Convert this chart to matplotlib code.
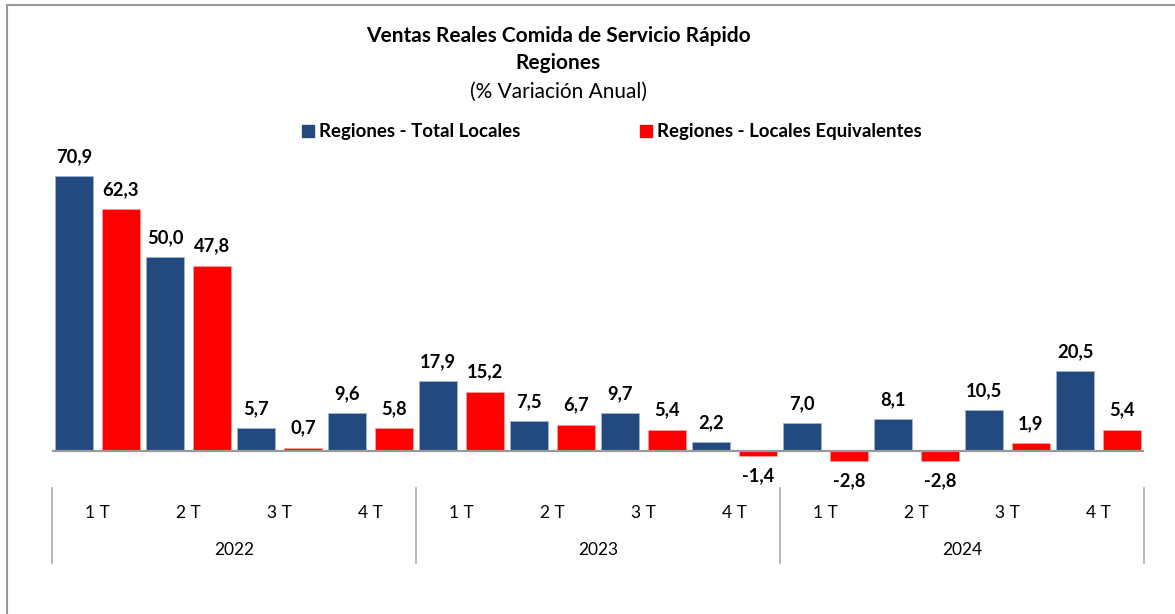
import matplotlib
matplotlib.use("Agg")
import matplotlib.pyplot as plt
import numpy as np
from matplotlib.lines import Line2D
from matplotlib.patches import Rectangle
from matplotlib.transforms import blended_transform_factory

years = ["2022", "2023", "2024"]
quarters = ["1 T", "2 T", "3 T", "4 T"]
total_locales = [70.9, 50.0, 5.7, 9.6, 17.9, 7.5, 9.7, 2.2, 7.0, 8.1, 10.5, 20.5]
locales_equiv = [62.3, 47.8, 0.7, 5.8, 15.2, 6.7, 5.4, -1.4, -2.8, -2.8, 1.9, 5.4]
series_names = ["Regiones - Total Locales", "Regiones - Locales Equivalentes"]

BLUE = "#234A7E"
RED = "#FF0000"
FONT = ["Lato", "DejaVu Sans"]
plt.rcParams["font.family"] = FONT

W, H = 1175, 614
fig = plt.figure(figsize=(W / 100, H / 100), dpi=100)

# axes placed so that the zero line sits at y=451px, x spans 52..1144px
y_lo, y_hi = -10, 80
px_per_unit = 3.87
zero_px = 450.5
top_px = zero_px - y_hi * px_per_unit
bot_px = zero_px - y_lo * px_per_unit
ax = fig.add_axes([52 / W, 1 - bot_px / H, (1144 - 52) / W, (bot_px - top_px) / H])
ax.set_xlim(-0.5, 11.5)
ax.set_ylim(y_lo, y_hi)
ax.axis("off")

x = np.arange(len(total_locales))
bw = 0.41
off = 0.258
b1 = ax.bar(x - off, total_locales, bw, color=BLUE, edgecolor="#9FB4D0", linewidth=0.6)
b2 = ax.bar(x + off, locales_equiv, bw, color=RED, edgecolor="#FF9C9C", linewidth=0.6)
ax.axhline(0, color="#999999", lw=1.6, zorder=3)

for bars, vals in ((b1, total_locales), (b2, locales_equiv)):
    for b, v in zip(bars, vals):
        cx = b.get_x() + b.get_width() / 2
        lab = f"{v:.1f}".replace(".", ",")
        if v >= 0:
            ax.annotate(lab, (cx, v), xytext=(0, 8), textcoords="offset points",
                        ha="center", va="bottom", fontsize=13.2, fontweight="bold")
        else:
            ax.annotate(lab, (cx, v), xytext=(0, -8), textcoords="offset points",
                        ha="center", va="top", fontsize=13.2, fontweight="bold")

# category axis: quarters, years and separators
tr = blended_transform_factory(ax.transData, fig.transFigure)
for i in range(len(total_locales)):
    ax.text(x[i], 1 - 513 / H, quarters[i % 4], transform=tr, ha="center",
            va="center", fontsize=12.5)
for k, yr in enumerate(years):
    ax.text(4 * k + 1.5, 1 - 550 / H, yr, transform=tr, ha="center",
            va="center", fontsize=12.5)
for k in range(len(years) + 1):
    ax.add_line(Line2D([4 * k - 0.5] * 2, [1 - 488 / H, 1 - 563 / H], transform=tr,
                       color="#AAAAAA", lw=1.2, clip_on=False))

# titles
fig.text(558 / W, 1 - 36 / H, "Ventas Reales Comida de Servicio Rápido", ha="center",
         va="center", fontsize=15, fontweight="bold")
fig.text(558 / W, 1 - 63 / H, "Regiones", ha="center", va="center",
         fontsize=15, fontweight="bold")
fig.text(558 / W, 1 - 92 / H, "(% Variación Anual)", ha="center", va="center",
         fontsize=15)

# legend
for sx, color, name in ((302, BLUE, series_names[0]), (640, RED, series_names[1])):
    fig.patches.append(Rectangle((sx / W, 1 - 137 / H), 12 / W, 12 / H,
                                 transform=fig.transFigure, color=color))
    fig.text((sx + 17) / W, 1 - 131 / H, name, ha="left", va="center",
             fontsize=13.4, fontweight="bold")

# outer frame (left and top edges visible)
fig.add_artist(Line2D([6.5 / W, 6.5 / W], [0, 1 - 4.5 / H], transform=fig.transFigure,
                      color="#999999", lw=1.5))
fig.add_artist(Line2D([6.5 / W, 1], [1 - 4.5 / H, 1 - 4.5 / H], transform=fig.transFigure,
                      color="#999999", lw=1.5))

fig.savefig("out.png", dpi=100)
